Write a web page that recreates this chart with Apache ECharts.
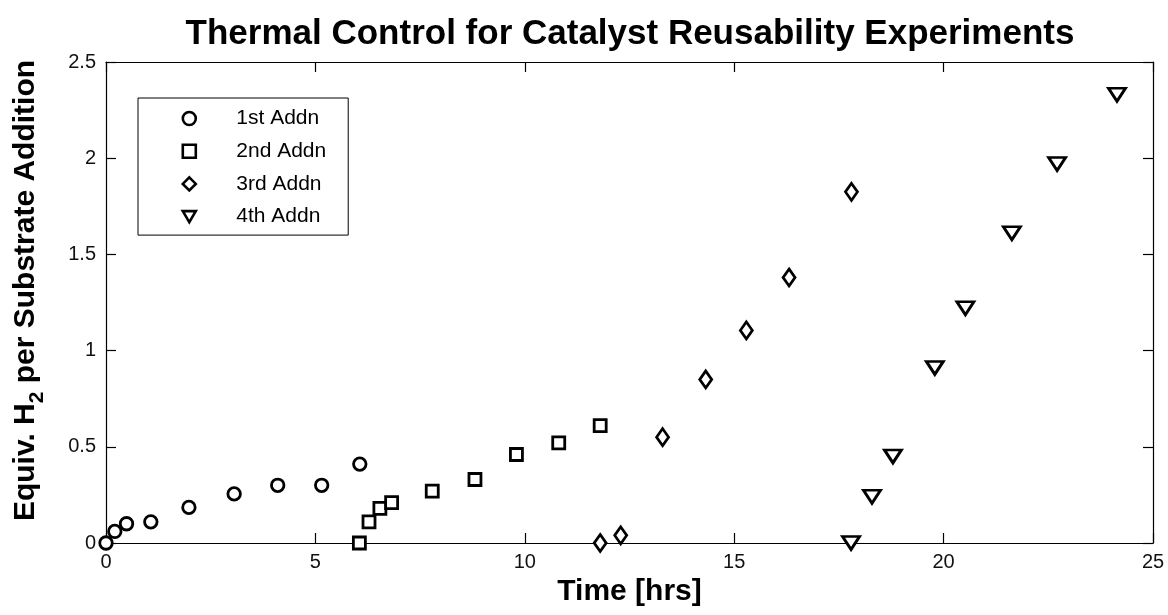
<!DOCTYPE html>
<html>
<head>
<meta charset="utf-8">
<script src="https://cdn.jsdelivr.net/npm/echarts@6/dist/echarts.min.js"></script>
<style>
html,body{margin:0;padding:0;background:#fff;}
#chart{width:1168px;height:615px;}
</style>
</head>
<body>
<div id="chart"></div>
<script>
// ---- data ----
const seriesNames = ['1st Addn', '2nd Addn', '3rd Addn', '4th Addn'];
const addn1X = [0, 0.21, 0.49, 1.07, 1.98, 3.06, 4.10, 5.15, 6.06];
const addn1Y = [0, 0.06, 0.10, 0.11, 0.185, 0.255, 0.30, 0.30, 0.41];
const addn2X = [6.05, 6.28, 6.54, 6.82, 7.79, 8.81, 9.80, 10.81, 11.80];
const addn2Y = [0, 0.11, 0.18, 0.21, 0.27, 0.33, 0.46, 0.52, 0.61];
const addn3X = [11.80, 12.29, 13.29, 14.32, 15.29, 16.31, 17.80];
const addn3Y = [0, 0.04, 0.55, 0.85, 1.105, 1.38, 1.825];
const addn4X = [17.79, 18.29, 18.79, 19.79, 20.52, 21.63, 22.71, 24.14];
const addn4Y = [0, 0.24, 0.45, 0.91, 1.22, 1.61, 1.97, 2.33];
const xTicks = [0, 5, 10, 15, 20, 25];
const yTicks = [0, 0.5, 1, 1.5, 2, 2.5];

const FONT = 'Liberation Sans, Arial, Helvetica, sans-serif';
const pairs = (xs, ys) => xs.map((x, i) => [x, ys[i]]);

const markerStyle = { color: '#ffffff', borderColor: '#000000', borderWidth: 2.8, opacity: 1 };

const chart = echarts.init(document.getElementById('chart'), null, { renderer: 'canvas' });

const axisCommon = {
  type: 'value',
  axisLine: { show: true, onZero: false, lineStyle: { color: '#000', width: 1.2 } },
  axisTick: { show: true, inside: true, length: 10, lineStyle: { color: '#000', width: 1.2 } },
  splitLine: { show: false }
};

chart.setOption({
  animation: false,
  backgroundColor: '#ffffff',
  title: {
    text: 'Thermal Control for Catalyst Reusability Experiments',
    left: 625,
    textAlign: 'center',
    top: 12,
    textStyle: { fontFamily: FONT, fontSize: 35, fontWeight: 'bold', color: '#000' }
  },
  grid: { left: 106, right: 15, top: 62, bottom: 72, containLabel: false },
  legend: {
    data: [
      { name: seriesNames[0], icon: 'circle' },
      { name: seriesNames[1], icon: 'rect' },
      { name: seriesNames[2], icon: 'diamond' },
      { name: seriesNames[3], icon: 'path://M0,0 L20,0 L10,17 Z' }
    ],
    orient: 'vertical',
    left: 138,
    top: 98,
    itemWidth: 13,
    itemHeight: 13,
    itemGap: 11.7,
    padding: [10, 22, 8, 43.5],
    borderColor: '#000',
    borderWidth: 1,
    backgroundColor: '#fff',
    itemStyle: { color: '#fff', borderColor: '#000', borderWidth: 2.6, opacity: 1 },
    textStyle: { fontFamily: FONT, fontSize: 21, color: '#000', padding: [0, 0, 0, 35.5] },
    selectedMode: false
  },
  xAxis: [
    Object.assign({}, axisCommon, {
      position: 'bottom', min: xTicks[0], max: xTicks[xTicks.length - 1], interval: 5,
      name: 'Time [hrs]', nameLocation: 'middle', nameGap: 31,
      nameTextStyle: { fontFamily: FONT, fontSize: 30, fontWeight: 'bold', color: '#000' },
      axisLabel: { margin: 9, fontFamily: FONT, fontSize: 20, color: '#111' }
    }),
    Object.assign({}, axisCommon, {
      position: 'top', min: xTicks[0], max: xTicks[xTicks.length - 1], interval: 5,
      axisLabel: { show: false }
    })
  ],
  yAxis: [
    Object.assign({}, axisCommon, {
      position: 'left', min: yTicks[0], max: yTicks[yTicks.length - 1], interval: 0.5,
      name: '{a|Equiv. H}{s|2}{a| per Substrate Addition}',
      nameLocation: 'middle', nameRotate: 90, nameGap: 58,
      nameTextStyle: {
        fontFamily: FONT, fontSize: 30, fontWeight: 'bold', color: '#000',
        padding: [0, 0, 0, 24],
        rich: {
          a: { fontFamily: FONT, fontSize: 30, fontWeight: 'bold', color: '#000', lineHeight: 44, verticalAlign: 'middle' },
          s: { fontFamily: FONT, fontSize: 21, fontWeight: 'bold', color: '#000', lineHeight: 44, verticalAlign: 'bottom' }
        }
      },
      axisLabel: { margin: 10, fontFamily: FONT, fontSize: 20, color: '#111' }
    }),
    Object.assign({}, axisCommon, {
      position: 'right', min: yTicks[0], max: yTicks[yTicks.length - 1], interval: 0.5,
      axisLabel: { show: false }
    })
  ],
  series: [
    { name: seriesNames[0], type: 'scatter', data: pairs(addn1X, addn1Y), symbol: 'circle', symbolSize: 12.5, itemStyle: markerStyle, clip: false },
    { name: seriesNames[1], type: 'scatter', data: pairs(addn2X, addn2Y), symbol: 'rect', symbolSize: 12, itemStyle: markerStyle, clip: false },
    { name: seriesNames[2], type: 'scatter', data: pairs(addn3X, addn3Y), symbol: 'diamond', symbolSize: [12, 17], itemStyle: markerStyle, clip: false },
    { name: seriesNames[3], type: 'scatter', data: pairs(addn4X, addn4Y), symbol: 'triangle', symbolRotate: 180, symbolSize: [17, 13], itemStyle: markerStyle, clip: false }
  ]
});
</script>
</body>
</html>
